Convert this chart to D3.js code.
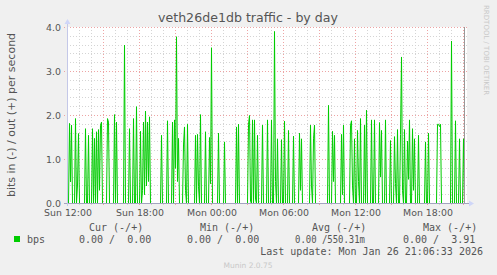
<!DOCTYPE html>
<html>
<head>
<meta charset="utf-8">
<script src="https://cdn.jsdelivr.net/npm/d3@7"></script>
<style>
  body { margin: 0; background: #F0F0F0; }
  text { font-family: "DejaVu Sans", sans-serif; fill: #555; }
  .mono { font-family: "DejaVu Sans Mono", monospace; font-size: 10px; white-space: pre; }
</style>
</head>
<body>
<div id="chart"></div>
<script>
// 5 minute samples from Sun 12:00, bits per second (out), in is 0 everywhere
const bps = [
  0, 0, 1.82, 0.49, 1.78, 0, 0, 0, 1.93, 0, 0.42, 1.59, 0, 0, 0, 0, 0, 0, 1.70, 0,
  0, 1.55, 0, 0, 0, 1.70, 0, 1.48, 0, 1.63, 0, 1.68, 0.3, 1.78, 1.85, 0, 0, 0, 0, 0,
  1.93, 1.85, 0, 0, 0, 0, 0, 2.02, 0, 1.85, 0, 0, 0, 0, 0, 0, 0, 3.6, 0, 0,
  0, 0, 1.70, 0, 0, 0, 1.93, 0, 0, 2.2, 0, 0, 0, 1.64, 0, 0.3, 1.85, 0.2, 2.1, 0.4,
  1.85, 0.5, 1.97, 0, 0, 0, 0, 0, 0, 0, 0, 0, 0, 0, 1.55, 0, 0, 0, 0, 0,
  1.88, 0, 0, 0, 0, 1.85, 0, 1.9, 0.8, 3.79, 0.5, 1.48, 0, 0, 0, 0, 1.33, 1.74, 0.3, 0,
  1.8, 0, 0, 0, 0, 0, 0, 0, 1.55, 0, 1.57, 0.38, 0, 2.02, 0, 0, 0, 0, 1.63, 0,
  0, 0, 1.5, 0.45, 3.54, 0, 0, 0, 0, 0, 0, 1.6, 0, 0, 0, 0, 0, 1.4, 0, 0,
  0, 0, 0, 0, 0, 0, 0, 0, 0, 1.74, 0, 1.8, 0, 0, 0, 0, 0, 0, 0, 0,
  0, 1.8, 2.0, 0.05, 0, 1.9, 0, 1.9, 0.1, 0, 1.55, 0, 0, 0, 0, 1.78, 0, 0, 0, 0,
  1.9, 0, 0, 0, 1.9, 0, 0, 3.91, 0.5, 0, 1.47, 0, 0, 0, 1.45, 0, 0, 1.87, 0, 0,
  0, 1.66, 0, 0, 0, 0, 1.53, 0, 0, 0, 0, 0, 1.6, 0.3, 1.47, 0, 0, 0, 0, 0,
  0, 0, 0, 1.78, 0.4, 0, 1.47, 1.78, 0, 0, 0, 0, 0, 0, 0, 0, 0, 0, 0, 0,
  0, 2.23, 0, 0, 0, 1.64, 0.5, 1.55, 0, 0, 0, 0, 0, 0, 1.57, 0.2, 1.78, 0, 0, 0,
  0, 0, 0, 1.78, 1.88, 0.4, 0, 1.47, 0, 0, 1.66, 0.5, 0, 1.93, 0, 0, 0, 1.78, 0, 2.12,
  0, 0, 0, 0, 1.9, 0, 0, 1.9, 0, 0, 0, 0, 1.84, 0.6, 1.66, 0, 0, 0, 1.9, 0,
  0, 0, 0, 1.43, 0, 0, 0, 1.52, 0.45, 0, 1.68, 0, 0, 1.57, 3.33, 0.3, 0, 1.68, 0, 0,
  1.42, 0.55, 1.9, 0, 0, 1.7, 0.3, 1.47, 0, 0, 0, 1.55, 0, 0, 0, 0, 0, 0, 1.4, 0,
  0, 1.6, 0, 0, 0, 0, 0, 0, 0, 0, 1.8, 1.8, 1.75, 1.8, 0, 0, 0, 0, 0, 0,
  0, 0, 0, 0, 3.69, 0, 0, 0, 1.88, 0, 0, 0, 1.47, 0, 0, 0, 1.47, 0
];
const yTicks = [0, 1, 2, 3, 4];
const legendHeaders = ["Cur (-/+)", "Min (-/+)", "Avg (-/+)", "Max (-/+)"];
const legendValues = ["0.00 /  0.00", "0.00 /  0.00", "0.00 /550.31m", "0.00 /  3.91"];
const seriesName = "bps";
const lastUpdate = "Last update: Mon Jan 26 21:06:33 2026";

const W = 497, H = 275;
const plot = {left: 67, right: 467, top: 27, bottom: 203};
const step = 5 * 60 * 1000;
const start = new Date(2026, 0, 25, 12, 0, 0);
const end = new Date(+start + 400 * step);
const nowMark = new Date(2026, 0, 26, 21, 6, 33);

const svg = d3.select("#chart").append("svg")
    .attr("width", W).attr("height", H)
    .style("display", "block");

svg.append("rect").attr("width", W).attr("height", H).attr("fill", "#F0F0F0");

const x = d3.scaleTime().domain([start, end]).range([plot.left, plot.right]);
const y = d3.scaleLinear().domain([0, 4]).range([plot.bottom, plot.top]);

// canvas
svg.append("rect")
    .attr("x", plot.left).attr("y", plot.top)
    .attr("width", plot.right - plot.left).attr("height", plot.bottom - plot.top)
    .attr("fill", "#fff");

// minor grid
const minorGrid = "#d4d4d4";
const majorGrid = "#eda4a4";
svg.append("g").selectAll("line")
    .data(d3.range(0.2, 4.001, 0.2).filter(v => Math.abs(v - Math.round(v)) > 0.01))
    .join("line")
    .attr("x1", plot.left).attr("x2", plot.right)
    .attr("y1", d => Math.round(y(d)) + 0.5).attr("y2", d => Math.round(y(d)) + 0.5)
    .attr("stroke", minorGrid).attr("stroke-dasharray", "1,2");
svg.append("g").selectAll("line")
    .data(d3.timeHour.range(start, end).filter(d => d.getHours() % 3 !== 0))
    .join("line")
    .attr("x1", d => Math.round(x(d)) + 0.5).attr("x2", d => Math.round(x(d)) + 0.5)
    .attr("y1", plot.top).attr("y2", plot.bottom + 2)
    .attr("stroke", minorGrid).attr("stroke-dasharray", "1,2");

// major grid
svg.append("g").selectAll("line")
    .data(yTicks.slice(1))
    .join("line")
    .attr("x1", plot.left - 3).attr("x2", plot.right)
    .attr("y1", d => Math.round(y(d)) + 0.5).attr("y2", d => Math.round(y(d)) + 0.5)
    .attr("stroke", majorGrid).attr("stroke-dasharray", "1,2");
svg.append("g").selectAll("line")
    .data(d3.timeHour.every(3).range(start, end))
    .join("line")
    .attr("x1", d => Math.round(x(d)) + 0.5).attr("x2", d => Math.round(x(d)) + 0.5)
    .attr("y1", plot.top).attr("y2", plot.bottom + 3)
    .attr("stroke", majorGrid).attr("stroke-dasharray", "1,2");

// data line
svg.append("path")
    .datum(bps)
    .attr("fill", "none")
    .attr("stroke", "#00CC00")
    .attr("stroke-width", 1)
    .attr("d", d3.line()
        .x((d, i) => x(new Date(+start + i * step)) + 0.5)
        .y(d => y(d) + 0.5));

// now marker
svg.append("line")
    .attr("x1", Math.round(x(nowMark)) + 0.5).attr("x2", Math.round(x(nowMark)) + 0.5)
    .attr("y1", plot.top).attr("y2", plot.bottom)
    .attr("stroke", "#999");

// axes
const axisCol = "#C4C8E8";
svg.append("line")
    .attr("x1", plot.left - 3).attr("x2", plot.right + 2)
    .attr("y1", plot.bottom + 0.5).attr("y2", plot.bottom + 0.5)
    .attr("stroke", "#A4A4C0");
svg.append("line")
    .attr("x1", plot.left + 0.5).attr("x2", plot.left + 0.5)
    .attr("y1", plot.bottom + 3).attr("y2", plot.top - 4)
    .attr("stroke", axisCol);
svg.append("path")
    .attr("d", `M${plot.left - 2.5},${plot.top - 3} L${plot.left + 3.5},${plot.top - 3} L${plot.left + 0.5},${plot.top - 8} Z`)
    .attr("fill", "#CFD6F8");
svg.append("path")
    .attr("d", `M${plot.right + 2},${plot.bottom - 2.5} L${plot.right + 2},${plot.bottom + 3.5} L${plot.right + 7},${plot.bottom + 0.5} Z`)
    .attr("fill", "#CFD6F8");

// tick labels
svg.append("g").selectAll("text")
    .data(yTicks)
    .join("text")
    .attr("x", 61).attr("y", d => y(d) + 3.5)
    .attr("text-anchor", "end")
    .style("font-size", "9.4px")
    .text(d3.format(".1f"));
svg.append("g").selectAll("text")
    .data(d3.timeHour.every(6).range(start, end))
    .join("text")
    .attr("x", d => x(d) + 1).attr("y", 216)
    .attr("text-anchor", "middle")
    .style("font-size", "9.4px")
    .text(d3.timeFormat("%a %H:%M"));

// title and labels
svg.append("text")
    .attr("x", 248).attr("y", 22)
    .attr("text-anchor", "middle")
    .style("font-size", "12.6px")
    .text("veth26de1db traffic - by day");
svg.append("text")
    .attr("transform", "translate(15,115) rotate(-90)")
    .attr("text-anchor", "middle")
    .style("font-size", "11px")
    .text("bits in (-) / out (+) per second");
svg.append("text")
    .attr("transform", "translate(484,5) rotate(90)")
    .attr("text-anchor", "start")
    .style("font-size", "7px")
    .style("fill", "#C8C8C8")
    .text("RRDTOOL / TOBI OETIKER");

// legend
const colX = [89, 200, 312, 423];
const valX = [79, 187, 295, 403];
svg.append("g").selectAll("text")
    .data(legendHeaders)
    .join("text")
    .attr("class", "mono")
    .attr("x", (d, i) => colX[i]).attr("y", 231)
    .text(d => d);
svg.append("rect")
    .attr("x", 14).attr("y", 236).attr("width", 6).attr("height", 6)
    .attr("fill", "#00CC00");
svg.append("text")
    .attr("class", "mono")
    .attr("x", 27).attr("y", 243)
    .text(seriesName);
svg.append("g").selectAll("text")
    .data(legendValues)
    .join("text")
    .attr("class", "mono")
    .attr("x", (d, i) => valX[i]).attr("y", 243)
    .attr("textLength", (d, i) => i === 2 ? 70 : null)
    .attr("lengthAdjust", "spacingAndGlyphs")
    .text(d => d);
svg.append("text")
    .attr("class", "mono")
    .attr("x", 483).attr("y", 255)
    .attr("text-anchor", "end")
    .text(lastUpdate);
svg.append("text")
    .attr("x", 248).attr("y", 268)
    .attr("text-anchor", "middle")
    .style("font-size", "7.5px")
    .style("fill", "#C8C8C8")
    .text("Munin 2.0.75");
</script>
</body>
</html>
